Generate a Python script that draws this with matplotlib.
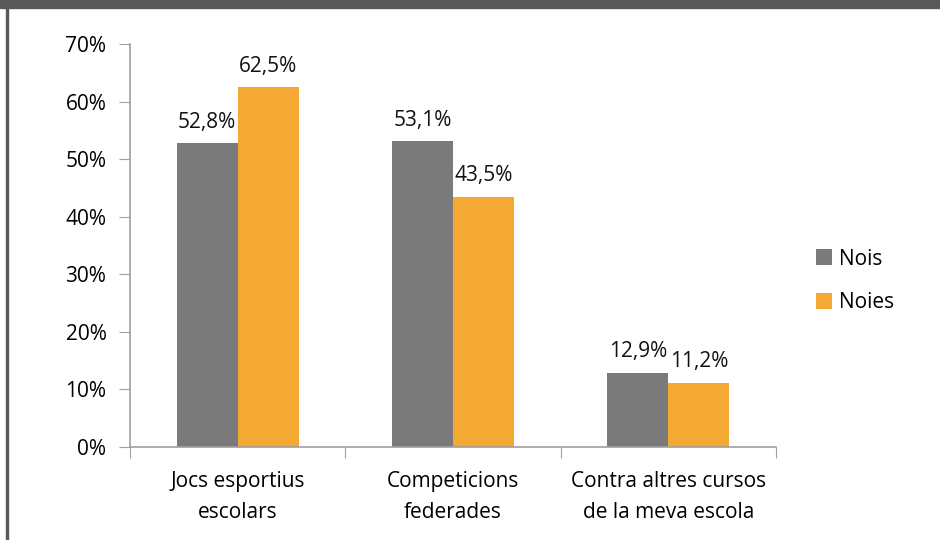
import numpy as np
import matplotlib.pyplot as plt
from matplotlib.patches import Rectangle

categories = ['Jocs esportius\nescolars', 'Competicions\nfederades', 'Contra altres cursos\nde la meva escola']
nois = [52.8, 53.1, 12.9]
noies = [62.5, 43.5, 11.2]
series_names = ['Nois', 'Noies']
colors = ['#7a7a7a', '#f4a934']

plt.rcParams['font.family'] = ['Open Sans', 'DejaVu Sans']
fs = 15

fig = plt.figure(figsize=(9.4, 5.4), dpi=100)
fig.patch.set_facecolor('white')

# dark band on top and left border
fig.patches.append(Rectangle((0, 1 - 8 / 540), 1, 8 / 540, transform=fig.transFigure,
                             color='#595959', zorder=0))
fig.patches.append(Rectangle((6 / 940, 0), 2 / 940, 1, transform=fig.transFigure,
                             color='#595959', zorder=0))

ax = fig.add_axes([130 / 940, 1 - 447 / 540, 646 / 940, 403 / 540])

x = np.arange(len(categories))
w = 0.284
b1 = ax.bar(x - w / 2, nois, w, color=colors[0], label=series_names[0])
b2 = ax.bar(x + w / 2, noies, w, color=colors[1], label=series_names[1])

for bars, vals in ((b1, nois), (b2, noies)):
    for r, v in zip(bars, vals):
        ax.annotate(f'{v:.1f}%'.replace('.', ','), (r.get_x() + r.get_width() / 2, v),
                    xytext=(0, 7.5), textcoords='offset points', ha='center', va='bottom',
                    fontsize=fs, color='#111111')

ax.set_xlim(-0.5, 2.5)
ax.set_ylim(0, 70)
ax.set_yticks(np.arange(0, 71, 10))
ax.set_yticklabels([f'{t}%' for t in range(0, 71, 10)], fontsize=fs)

ax.set_xticks([-0.5, 0.5, 1.5, 2.5])
ax.set_xticklabels([])
ax.set_xticks(x, minor=True)
ax.set_xticklabels(categories, minor=True, fontsize=fs, linespacing=1.65)
ax.tick_params(axis='x', which='minor', length=0, pad=17)
ax.tick_params(axis='x', which='major', length=8, color='#a0a0a0', direction='out')
ax.tick_params(axis='y', length=8, color='#a0a0a0', direction='out', pad=9)

for s in ['top', 'right']:
    ax.spines[s].set_visible(False)
for s in ['left', 'bottom']:
    ax.spines[s].set_color('#a0a0a0')
    ax.spines[s].set_linewidth(1.2)

fig.legend(handles=[b1, b2], loc='center left', bbox_to_anchor=(797 / 940, 1 - 281 / 540),
           frameon=False, fontsize=fs, handlelength=0.8, handleheight=0.8,
           handletextpad=0.3, labelspacing=1.1)

fig.savefig('out.png', dpi=100)
